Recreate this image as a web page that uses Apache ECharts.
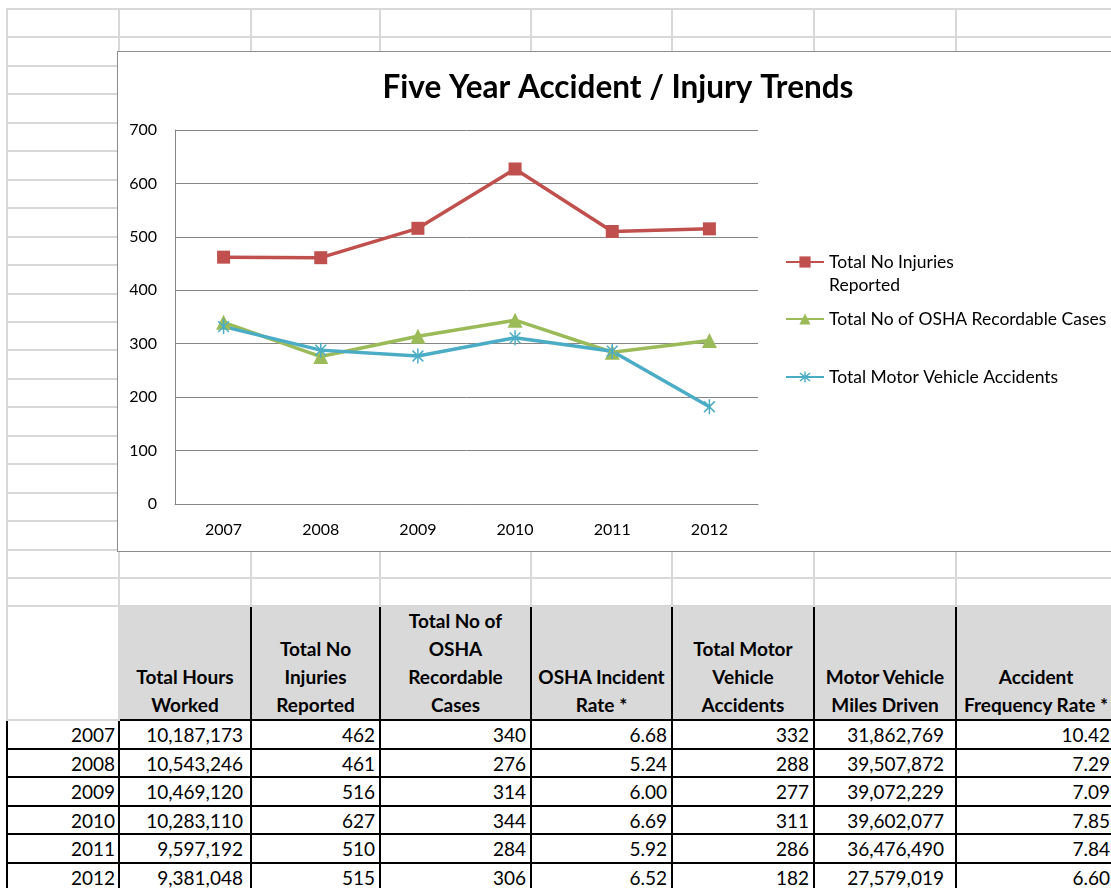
<!DOCTYPE html>
<html>
<head>
<meta charset="utf-8">
<script src="https://cdn.jsdelivr.net/npm/echarts@6/dist/echarts.min.js"></script>
<style>
html, body { margin: 0; padding: 0; background: #fff; width: 1111px; height: 888px; overflow: hidden; }
#sheet { position: absolute; left: 6px; top: 8px; border-collapse: collapse; table-layout: fixed;
  font-family: Lato, sans-serif; font-size: 19px; color: #000; }
#sheet td { border: 2px solid #d8d8d8; padding: 0; white-space: nowrap; overflow: hidden; }
#sheet td.h { background: #d9d9d9; border: 2px solid #000; font-weight: bold; text-align: center;
  vertical-align: bottom; line-height: 28px; }
#sheet td.d { border: 2px solid #000; text-align: right; padding-right: 4px; vertical-align: middle; }
#chart { position: absolute; left: 117px; top: 51px; width: 1002px; height: 501px; box-sizing: border-box;
  border: 1px solid #8c8c8c; background: #fff; }
</style>
</head>
<body>
<table id="sheet"></table>
<div id="chart"></div>
<script>
// data from the sheet
const years = ['2007', '2008', '2009', '2010', '2011', '2012'];
const hoursWorked = [10187173, 10543246, 10469120, 10283110, 9597192, 9381048];
const injuries = [462, 461, 516, 627, 510, 515];
const oshaCases = [340, 276, 314, 344, 284, 306];
const oshaRate = [6.68, 5.24, 6.00, 6.69, 5.92, 6.52];
const mvAccidents = [332, 288, 277, 311, 286, 182];
const mvMiles = [31862769, 39507872, 39072229, 39602077, 36476490, 27579019];
const freqRate = [10.42, 7.29, 7.09, 7.85, 7.84, 6.60];

const headers = [
  'Total Hours<br>Worked',
  'Total No<br>Injuries<br>Reported',
  'Total No of<br>OSHA<br>Recordable<br>Cases',
  'OSHA Incident<br>Rate *',
  'Total Motor<br>Vehicle<br>Accidents',
  'Motor Vehicle<br>Miles Driven',
  'Accident<br>Frequency Rate *'
];
const seriesNames = ['Total No Injuries Reported', 'Total No of OSHA Recordable Cases', 'Total Motor Vehicle Accidents'];

// spreadsheet grid
const colEdges = [7, 119, 251, 380, 531, 672, 814, 956, 1116];
const rowH = 28.45;
const rowY = k => Math.round(9 + rowH * k);

const fmtInt = v => v.toLocaleString('en-US');
const fmtDec = v => v.toFixed(2);

let html = '<colgroup>';
for (let i = 0; i < colEdges.length - 1; i++) {
  html += '<col style="width:' + (colEdges[i + 1] - colEdges[i]) + 'px">';
}
html += '</colgroup>';
for (let k = 0; k < 21; k++) {
  html += '<tr style="height:' + (rowY(k + 1) - rowY(k)) + 'px">';
  for (let i = 0; i < colEdges.length - 1; i++) html += '<td></td>';
  html += '</tr>';
}
html += '<tr style="height:' + (rowY(25) - rowY(21)) + 'px"><td></td>';
headers.forEach(h => { html += '<td class="h">' + h + '</td>'; });
html += '</tr>';
years.forEach((y, i) => {
  html += '<tr style="height:' + (rowY(26 + i) - rowY(25 + i)) + 'px">';
  html += '<td class="d" style="padding-right:3px">' + y + '</td>';
  html += '<td class="d" style="padding-right:7px">' + fmtInt(hoursWorked[i]) + '</td>';
  html += '<td class="d">' + fmtInt(injuries[i]) + '</td>';
  html += '<td class="d">' + fmtInt(oshaCases[i]) + '</td>';
  html += '<td class="d">' + fmtDec(oshaRate[i]) + '</td>';
  html += '<td class="d">' + fmtInt(mvAccidents[i]) + '</td>';
  html += '<td class="d" style="padding-right:11px">' + fmtInt(mvMiles[i]) + '</td>';
  html += '<td class="d" style="padding-right:5px">' + fmtDec(freqRate[i]) + '</td>';
  html += '</tr>';
});
const sheet = document.getElementById('sheet');
sheet.innerHTML = html;
// fixed width so the table is not squeezed to the window
sheet.style.width = (colEdges[colEdges.length - 1] - colEdges[0]) + 'px';

// chart
const colors = ['#C0504D', '#9BBB59', '#4BACC6'];
const star = 'path://M6.3 0L7.7 0L7.7 14L6.3 14Z M2.5 1.5L12.5 11.5L11.5 12.5L1.5 2.5Z M12.5 2.5L2.5 12.5L1.5 11.5L11.5 1.5Z';
const font = 'Lato';

let mychart = echarts.init(document.getElementById('chart'));

const legendItem = (name, top, extra) => Object.assign({
  data: [name],
  orient: 'vertical',
  left: 667,
  top: top,
  padding: 0,
  itemWidth: 38,
  itemHeight: 14,
  selectedMode: false,
  textStyle: { fontFamily: font, fontSize: 17.5, color: '#000', lineHeight: 22 }
}, extra || {});

mychart.setOption({
  animation: false,
  color: colors,
  title: {
    text: 'Five Year Accident / Injury Trends',
    left: 'center',
    top: 18,
    padding: 0,
    textStyle: { fontFamily: font, fontSize: 31.5, fontWeight: 'bold', color: '#000', lineHeight: 36 }
  },
  legend: [
    // blank first line keeps the icon level with "Total No Injuries"
    legendItem(seriesNames[0], 175.5, {
      formatter: () => '\nTotal No Injuries\nReported',
      textStyle: { fontFamily: font, fontSize: 17.5, color: '#000', lineHeight: 23 }
    }),
    legendItem(seriesNames[1], 256),
    legendItem(seriesNames[2], 314)
  ],
  grid: { left: 57, top: 78, width: 583, height: 374 },
  xAxis: {
    type: 'category',
    data: years,
    boundaryGap: true,
    axisLine: { lineStyle: { color: '#868686', width: 1 } },
    axisTick: { show: false },
    axisLabel: { fontFamily: font, fontSize: 16, color: '#000', margin: 18 }
  },
  yAxis: {
    type: 'value',
    min: 0,
    max: 700,
    interval: 100,
    axisLine: { show: true, lineStyle: { color: '#868686', width: 1 } },
    axisTick: { show: false },
    axisLabel: { fontFamily: font, fontSize: 16, color: '#000', margin: 18 },
    splitLine: { lineStyle: { color: '#868686', width: 1 } }
  },
  series: [
    {
      name: seriesNames[0], type: 'line', data: injuries,
      symbol: 'rect', symbolSize: 13,
      lineStyle: { width: 3.5, color: colors[0] }, itemStyle: { color: colors[0] }
    },
    {
      name: seriesNames[1], type: 'line', data: oshaCases,
      symbol: 'triangle', symbolSize: 15,
      lineStyle: { width: 3.5, color: colors[1] }, itemStyle: { color: colors[1] }
    },
    {
      name: seriesNames[2], type: 'line', data: mvAccidents,
      symbol: star, symbolSize: 15, symbolKeepAspect: true,
      lineStyle: { width: 3.5, color: colors[2] }, itemStyle: { color: colors[2] }
    }
  ]
});
</script>
</body>
</html>
